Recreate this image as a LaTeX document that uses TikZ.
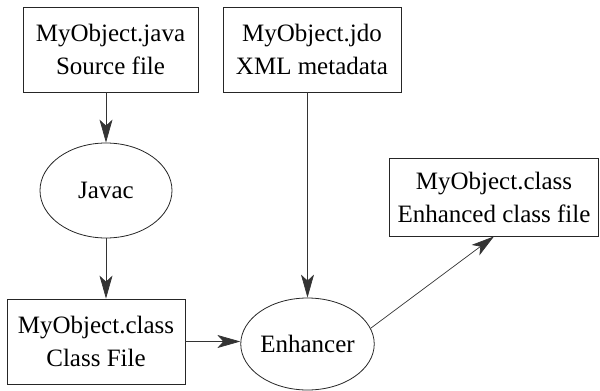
\documentclass[tikz,border=0pt]{standalone}
\usepackage{fontspec}
\setmainfont{Liberation Serif}
\usetikzlibrary{arrows.meta,shapes.geometric}

\begin{document}
\begin{tikzpicture}[x=1pt, y=-1pt,
		filebox/.style={draw, line width=0.8pt, color=black!85, text=black, align=center, inner sep=0pt},
		toolshape/.style={draw, ellipse, line width=0.8pt, color=black!85, text=black, inner sep=0pt},
		flow/.style={line width=0.7pt, color=black!80, -{Stealth[length=23pt, width=13pt, inset=6pt]}},
		font=\fontsize{25}{33}\selectfont]
		%%%%% START %%%%%
		
		\useasboundingbox (0, 0) rectangle (600, 391);
		
		\node[filebox, minimum width=175, minimum height=85] (java) at (110.5, 49.5) {MyObject.java\\Source file};
		\node[filebox, minimum width=178, minimum height=85] (jdo) at (312, 49.5) {MyObject.jdo\\XML metadata};
		
		\node[toolshape, minimum width=132, minimum height=95] (javac) at (106, 190.5) {Javac};
		
		\node[filebox, minimum width=178, minimum height=85] (class) at (96, 341.5) {MyObject.class\\Class File};
		\node[toolshape, minimum width=125, minimum height=92] (enhancer) at (307.5, 344) {Enhancer};
		
		\node[filebox, minimum width=209, minimum height=78] (enhanced) at (494, 197) {MyObject.class\\Enhanced class file};
		
		\draw[flow] (javac.north |- java.south) -- (javac);
		\draw[flow] (javac) -- (javac |- class.north);
		\draw[flow] (class) -- (class -| enhancer.west);
		\draw[flow] (enhancer |- jdo.south) -- (enhancer);
		\draw[flow] (enhancer.14) -- (enhanced.south);
		
		%%%%% END %%%%%
\end{tikzpicture}
\end{document}
